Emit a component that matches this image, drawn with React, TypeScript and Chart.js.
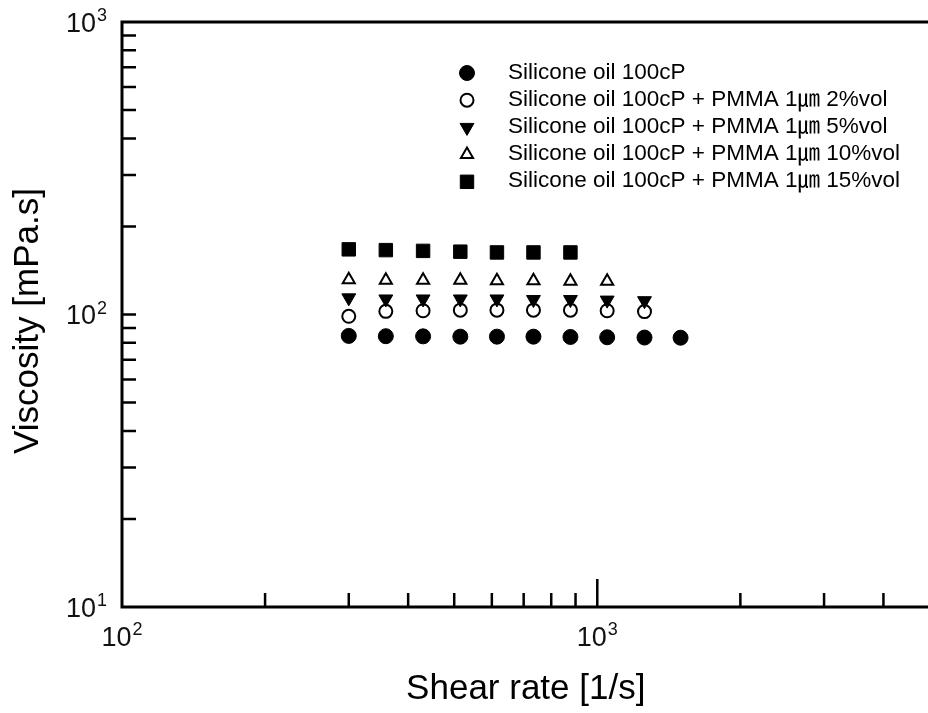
import React, { useEffect, useRef } from 'react';
import { Chart, registerables } from 'chart.js';
import { drawPoint } from 'chart.js/helpers';

Chart.register(...registerables);

// ---- data ----
const shearRates = [300, 359, 430, 515, 615, 734, 878, 1049, 1257, 1497];
const oil100 = [84.5, 84.3, 84.2, 84.0, 84.0, 84.0, 83.8, 83.6, 83.4, 83.3];
const pmma2 = [98.6, 102.5, 103, 103.5, 103.5, 103.5, 103.5, 103, 102.3];
const pmma5 = [114, 113, 113, 113, 113, 112.5, 112.5, 112, 111.5];
const pmma10 = [131.5, 131, 131, 131, 130.5, 130.5, 130, 130];
const pmma15 = [167, 166, 165, 164, 163, 163, 163];

const seriesLabels = [
  'Silicone oil 100cP',
  'Silicone oil 100cP + PMMA 1\u339B 2%vol',
  'Silicone oil 100cP + PMMA 1\u339B 5%vol',
  'Silicone oil 100cP + PMMA 1\u339B 10%vol',
  'Silicone oil 100cP + PMMA 1\u339B 15%vol',
];

const xMin = 100;
const xMax = 5000;
const yMin = 10;
const yMax = 1000;
const xMajorTicks = [1000];
const xMinorTicks = [200, 300, 400, 500, 600, 700, 800, 900, 2000, 3000, 4000, 5000];
const yTicks = [20, 30, 40, 50, 60, 70, 80, 90, 100, 200, 300, 400, 500, 600, 700, 800, 900];
const xLabelValues = [100, 1000];
const xLabelExps = ['2', '3'];
const yLabelValues = [10, 100, 1000];
const yLabelExps = ['1', '2', '3'];

const xTitle = 'Shear rate [1/s]';
const yTitle = 'Viscosity [mPa.s]';

const FONT = "'Liberation Sans', Arial, 'Noto Sans CJK KR', sans-serif";

const toXY = (ys: number[]) => ys.map((y, i) => ({ x: shearRates[i], y }));

const axesPlugin = {
  id: 'customAxes',
  afterDraw(chart: any) {
    const { ctx, chartArea: a, scales } = chart;
    const xs = scales.x;
    const ys = scales.y;
    ctx.save();
    ctx.strokeStyle = '#000';
    ctx.fillStyle = '#000';
    // axis lines
    ctx.lineWidth = 3;
    ctx.lineCap = 'square';
    ctx.beginPath();
    ctx.moveTo(a.right, a.top);
    ctx.lineTo(a.left, a.top);
    ctx.lineTo(a.left, a.bottom);
    ctx.lineTo(a.right, a.bottom);
    ctx.stroke();
    // ticks
    ctx.lineCap = 'butt';
    ctx.lineWidth = 2.5;
    ctx.beginPath();
    yTicks.forEach((v) => {
      const py = ys.getPixelForValue(v);
      ctx.moveTo(a.left, py);
      ctx.lineTo(a.left + 14, py);
    });
    xMinorTicks.forEach((v) => {
      const px = xs.getPixelForValue(v);
      ctx.moveTo(px, a.bottom);
      ctx.lineTo(px, a.bottom - 14);
    });
    xMajorTicks.forEach((v) => {
      const px = xs.getPixelForValue(v);
      ctx.moveTo(px, a.bottom);
      ctx.lineTo(px, a.bottom - 28);
    });
    ctx.stroke();

    // tick labels (10^n)
    ctx.fillStyle = '#111';
    ctx.textAlign = 'left';
    ctx.textBaseline = 'alphabetic';
    const baseFont = `27px ${FONT}`;
    const supFont = `18px ${FONT}`;
    const measure = (t: string, f: string) => {
      ctx.font = f;
      return ctx.measureText(t).width;
    };
    yLabelValues.forEach((v, i) => {
      const py = ys.getPixelForValue(v);
      const bw = measure('10', baseFont);
      const sw = measure(yLabelExps[i], supFont);
      const right = a.left - 15;
      const x0 = right - sw - 1 - bw;
      ctx.font = baseFont;
      ctx.fillText('10', x0, py + 9.8);
      ctx.font = supFont;
      ctx.fillText(yLabelExps[i], x0 + bw + 1, py - 1);
    });
    xLabelValues.forEach((v, i) => {
      const px = xs.getPixelForValue(v);
      const bw = measure('10', baseFont);
      const sw = measure(xLabelExps[i], supFont);
      const x0 = px - (bw + 1 + sw) / 2;
      ctx.font = baseFont;
      ctx.fillText('10', x0, a.bottom + 38.5);
      ctx.font = supFont;
      ctx.fillText(xLabelExps[i], x0 + bw + 1, a.bottom + 27.5);
    });

    // axis titles
    ctx.fillStyle = '#000';
    ctx.font = `35px ${FONT}`;
    ctx.textAlign = 'center';
    ctx.fillText(xTitle, (a.left + a.right) / 2, 699);
    ctx.save();
    ctx.translate(38, 321);
    ctx.rotate(-Math.PI / 2);
    ctx.fillText(yTitle, 0, 0);
    ctx.restore();

    // legend
    const legX = 467;
    const legY0 = 73;
    const legStep = 27.2;
    chart.data.datasets.forEach((ds: any, i: number) => {
      const y = legY0 + i * legStep;
      ctx.fillStyle = ds.backgroundColor;
      ctx.strokeStyle = ds.borderColor;
      ctx.lineWidth = ds.borderWidth;
      drawPoint(ctx, {
        pointStyle: ds.pointStyle,
        rotation: ds.rotation || 0,
        radius: ds.pointRadius,
        borderWidth: ds.borderWidth,
      } as any, legX, y);
      ctx.fillStyle = '#000';
      ctx.font = `22.5px ${FONT}`;
      ctx.textAlign = 'left';
      ctx.fillText(ds.label, 508, y + 5.5);
    });
    ctx.restore();
  },
};

export default function App() {
  const canvasRef = useRef<HTMLCanvasElement | null>(null);

  useEffect(() => {
    if (!canvasRef.current) return;
    const chart = new Chart(canvasRef.current, {
      type: 'scatter',
      data: {
        datasets: [
          {
            label: seriesLabels[0],
            data: toXY(oil100),
            pointStyle: 'circle',
            pointRadius: 7.5,
            backgroundColor: '#000',
            borderColor: '#000',
            borderWidth: 1,
            order: 0,
          },
          {
            label: seriesLabels[1],
            data: toXY(pmma2),
            pointStyle: 'circle',
            pointRadius: 6.5,
            backgroundColor: '#fff',
            borderColor: '#000',
            borderWidth: 2,
            order: 2,
          },
          {
            label: seriesLabels[2],
            data: toXY(pmma5),
            pointStyle: 'triangle',
            rotation: 180,
            pointRadius: 8,
            backgroundColor: '#000',
            borderColor: '#000',
            borderWidth: 1,
            order: 1,
          },
          {
            label: seriesLabels[3],
            data: toXY(pmma10),
            pointStyle: 'triangle',
            pointRadius: 7,
            backgroundColor: '#fff',
            borderColor: '#000',
            borderWidth: 2,
            order: 3,
          },
          {
            label: seriesLabels[4],
            data: toXY(pmma15),
            pointStyle: 'rect',
            pointRadius: 9.5,
            backgroundColor: '#000',
            borderColor: '#000',
            borderWidth: 1,
            order: 4,
          },
        ] as any,
      },
      options: {
        responsive: false,
        animation: false,
        devicePixelRatio: 1,
        layout: { padding: { left: 122, top: 22, right: 7, bottom: 106 } },
        scales: {
          x: { type: 'logarithmic', min: xMin, max: xMax, display: false },
          y: { type: 'logarithmic', min: yMin, max: yMax, display: false },
        },
        plugins: {
          legend: { display: false },
          tooltip: { enabled: false },
        },
      } as any,
      plugins: [axesPlugin],
    });
    return () => chart.destroy();
  }, []);

  return (
    <div
      style={{
        position: 'fixed',
        left: 0,
        top: 0,
        width: 928,
        height: 713,
        overflow: 'hidden',
        background: '#fff',
      }}
    >
      <canvas
        ref={canvasRef}
        width={940}
        height={713}
        style={{ position: 'absolute', left: 0, top: 0, width: 940, height: 713, display: 'block' }}
      />
    </div>
  );
}
